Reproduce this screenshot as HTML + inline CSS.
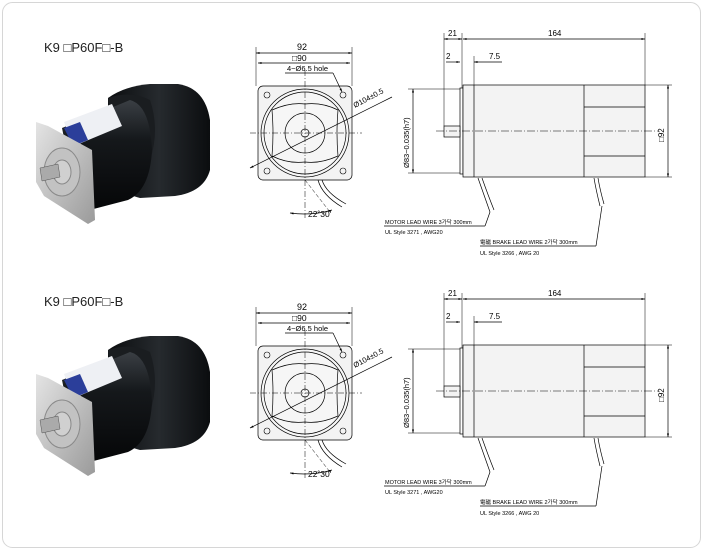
<!DOCTYPE html>
<html><head><meta charset="utf-8"><style>
html,body{margin:0;padding:0;background:#fff;}
svg{display:block;font-family:"Liberation Sans","Noto Sans CJK KR",sans-serif;}
</style></head><body>
<svg width="703" height="550" viewBox="0 0 703 550" xmlns="http://www.w3.org/2000/svg">
<defs>
<marker id="a" viewBox="0 0 10 10" refX="10" refY="5" markerWidth="5" markerHeight="5" orient="auto-start-reverse"><path d="M0,2L10,5L0,8z" fill="#000"/></marker>
<linearGradient id="bk" x1="0" y1="0" x2="0" y2="1"><stop offset="0" stop-color="#3a3f44"/><stop offset="0.35" stop-color="#15181b"/><stop offset="1" stop-color="#050607"/></linearGradient>
<linearGradient id="bk2" x1="0" y1="0" x2="1" y2="0"><stop offset="0" stop-color="#0b0d0f"/><stop offset="0.5" stop-color="#262a2e"/><stop offset="1" stop-color="#0b0d0f"/></linearGradient>
<linearGradient id="fl" x1="0" y1="0" x2="1" y2="1"><stop offset="0" stop-color="#e4e4e4"/><stop offset="1" stop-color="#9a9a9a"/></linearGradient>
<g id="photo">
 <path d="M108,98 Q125,86 150,84 L178,84 Q205,88 210,120 L210,170 Q204,192 175,196 L140,198 Q115,192 108,170z" fill="url(#bk2)"/>
 <path d="M108,98 Q112,140 108,170 Q132,180 150,160 Q160,130 150,100 Q130,90 108,98z" fill="#1a1d20"/>
 <path d="M62,128 L130,100 Q150,105 152,150 Q150,190 128,200 L82,212 Q70,170 62,128z" fill="url(#bk)"/>
 <polygon points="64,122 112,104 122,126 74,146" fill="#eef0f4"/>
 <polygon points="64,128 80,122 88,140 73,146" fill="#2b3e9a"/>
 <polygon points="36,122 48,126 92,150 95,220 88,224 44,196 36,182" fill="url(#fl)"/>
 <ellipse cx="62" cy="172" rx="18" ry="24" fill="#c2c2c2" stroke="#8a8a8a"/>
 <ellipse cx="62" cy="172" rx="9" ry="12" fill="#d0d0d0" stroke="#888"/>
 <polygon points="40,168 58,164 60,177 42,181" fill="#aaa" stroke="#555" stroke-width="0.5"/>
</g>
<g id="draw" fill="none" stroke="#000" stroke-width="0.7">
 <rect x="258" y="86" width="94" height="94" rx="5" fill="#f3f3f3"/>
 <circle cx="305" cy="133" r="44" fill="#f6f6f6"/>
 <circle cx="305" cy="133" r="41"/>
 <path d="M272,110 Q290,102 305,104 Q322,102 338,110 Q336,133 338,156 Q320,164 305,162 Q288,164 272,156 Q274,133 272,110z"/>
 <circle cx="305" cy="133" r="20"/>
 <circle cx="305" cy="133" r="4"/>
 <g stroke-width="0.6"><circle cx="267" cy="95" r="3"/><circle cx="343" cy="95" r="3"/><circle cx="267" cy="171" r="3"/><circle cx="343" cy="171" r="3"/></g>
 <line x1="250" y1="133" x2="362" y2="133" stroke-dasharray="6,2,1,2" stroke-width="0.5"/>
 <line x1="305" y1="70" x2="305" y2="218" stroke-dasharray="6,2,1,2" stroke-width="0.5"/>
 <line x1="256" y1="47" x2="256" y2="86" stroke-width="0.5"/><line x1="352" y1="47" x2="352" y2="86" stroke-width="0.5"/>
 <line x1="256" y1="53" x2="352" y2="53" marker-start="url(#a)" marker-end="url(#a)"/>
 <line x1="258" y1="63" x2="350" y2="63" marker-start="url(#a)" marker-end="url(#a)"/>
 <line x1="285" y1="73" x2="333" y2="73"/><line x1="333" y1="73" x2="342" y2="92" marker-end="url(#a)"/>
 <line x1="250" y1="168" x2="392" y2="97" marker-start="url(#a)"/>
 <path d="M318,180 Q322,195 342,207 M322,180 Q326,193 346,204"/>
 <line x1="305" y1="180" x2="330" y2="212" stroke-dasharray="4,2" stroke-width="0.5"/>
 <path d="M290,213 Q312,216 332,210" marker-start="url(#a)" marker-end="url(#a)"/>
 <rect x="460" y="88" width="3" height="86"/>
 <rect x="463" y="85" width="182" height="92" fill="#f3f3f3"/>
 <line x1="474" y1="85" x2="474" y2="177"/>
 <line x1="584" y1="85" x2="584" y2="177"/>
 <line x1="584" y1="107" x2="645" y2="107"/><line x1="584" y1="156" x2="645" y2="156"/>
 <rect x="444" y="126" width="16" height="11" fill="#f3f3f3"/>
 <line x1="436" y1="131" x2="658" y2="131" stroke-dasharray="8,2,1,2" stroke-width="0.5"/>
 <line x1="444" y1="33" x2="444" y2="126" stroke-width="0.5"/>
 <line x1="462" y1="33" x2="462" y2="88" stroke-width="0.5"/>
 <line x1="645" y1="33" x2="645" y2="85" stroke-width="0.5"/>
 <line x1="474" y1="56" x2="474" y2="85" stroke-width="0.5"/>
 <line x1="444" y1="39" x2="462" y2="39" marker-start="url(#a)" marker-end="url(#a)"/>
 <line x1="463" y1="39" x2="645" y2="39" marker-start="url(#a)" marker-end="url(#a)"/>
 <line x1="446" y1="62" x2="460" y2="62" marker-end="url(#a)"/>
 <line x1="474" y1="62" x2="502" y2="62" marker-start="url(#a)"/>
 <line x1="408" y1="89" x2="460" y2="89" stroke-width="0.5"/><line x1="408" y1="173" x2="460" y2="173" stroke-width="0.5"/>
 <line x1="413" y1="89" x2="413" y2="173" marker-start="url(#a)" marker-end="url(#a)"/>
 <line x1="645" y1="85" x2="672" y2="85" stroke-width="0.5"/><line x1="645" y1="177" x2="672" y2="177" stroke-width="0.5"/>
 <line x1="668" y1="85" x2="668" y2="177" marker-start="url(#a)" marker-end="url(#a)"/>
 <path d="M478,178 Q484,195 490,212 M482,178 Q488,195 494,210"/>
 <path d="M594,178 Q596,190 600,206 M598,178 Q600,190 604,204"/>
 <line x1="490" y1="212" x2="485" y2="226"/><line x1="384" y1="226" x2="485" y2="226"/>
 <line x1="602" y1="206" x2="596" y2="246"/><line x1="480" y1="246" x2="596" y2="246"/>
</g>
<g id="txt" font-size="9" fill="#000">
 <text x="297" y="50" font-size="9">92</text>
 <text x="292" y="61" font-size="8.5">□90</text>
 <text x="287" y="71" font-size="7.5">4−Ø6.5 hole</text>
 <text x="355" y="108" font-size="7.5" transform="rotate(-28 355 108)">Ø104±0.5</text>
 <text x="308" y="217" font-size="8.5">22˚30'</text>
 <text x="448" y="36" font-size="8">21</text>
 <text x="548" y="36" font-size="8">164</text>
 <text x="446" y="59" font-size="8">2</text>
 <text x="489" y="59" font-size="8">7.5</text>
 <text x="409" y="168" font-size="7.5" transform="rotate(-90 409 168)">Ø83−0.035(h7)</text>
 <text x="664" y="142" font-size="8" transform="rotate(-90 664 142)">□92</text>
 <text x="385" y="224" font-size="5.5">MOTOR LEAD WIRE 3가닥 300mm</text>
 <text x="385" y="234" font-size="5.5">UL Style 3271 , AWG20</text>
 <text x="480" y="244" font-size="5.5">電磁 BRAKE LEAD WIRE 2가닥 300mm</text>
 <text x="480" y="255" font-size="5.5">UL Style 3266 , AWG 20</text>
</g>
</defs>
<rect x="2.5" y="2.5" width="698" height="545" rx="10" fill="#fff" stroke="#d6d6d6"/>
<text x="44" y="52" font-size="13" fill="#222">K9 □P60F□-B</text>
<text x="44" y="306" font-size="13" fill="#222">K9 □P60F□-B</text>
<use href="#photo"/>
<use href="#photo" transform="translate(0,252)"/>
<use href="#draw"/><use href="#txt"/>
<g transform="translate(0,260)"><use href="#draw"/><use href="#txt"/></g>
</svg>
</body></html>
